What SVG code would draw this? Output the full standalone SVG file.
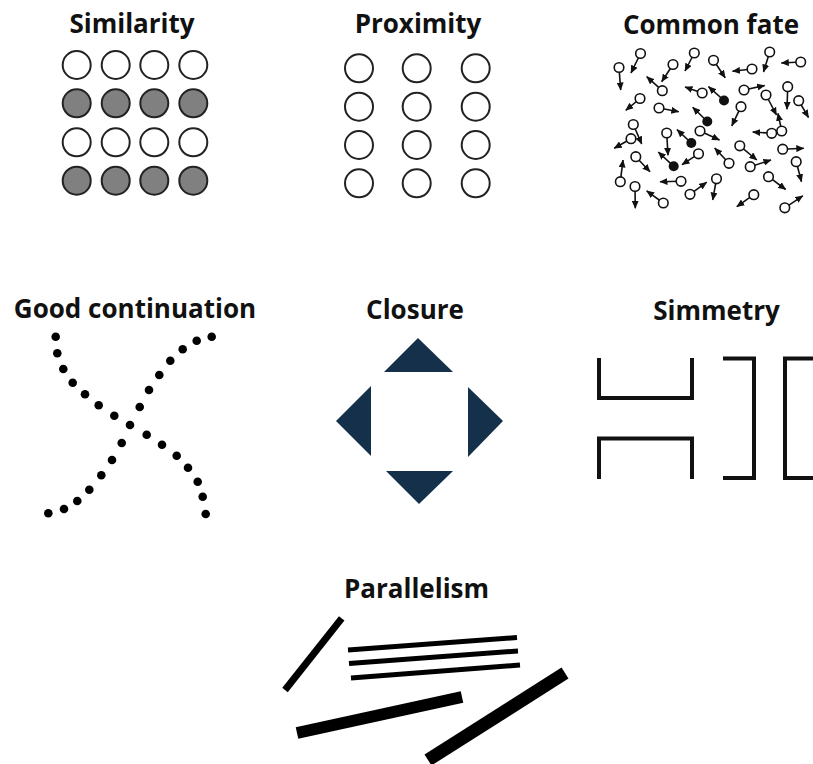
<svg xmlns="http://www.w3.org/2000/svg" width="813" height="764" viewBox="0 0 813 764">
<defs>
<marker id="ah" markerUnits="userSpaceOnUse" markerWidth="8" markerHeight="7" viewBox="0 0 8 7" refX="7.5" refY="3.5" orient="auto"><path d="M0,0 L8,3.5 L0,7 z" fill="#111"/></marker>
<style>
.t{font-family:"Open Sans","Liberation Sans",sans-serif;font-weight:bold;font-size:26px;fill:#111;text-anchor:middle}
.c{stroke:#222;stroke-width:2;fill:#fff}
.g{stroke:#222;stroke-width:2;fill:#808080}
.a{stroke:#111;stroke-width:1.6;marker-end:url(#ah)}
.o{stroke:#111;stroke-width:1.6;fill:#fff}
.b{fill:#111}
.d{fill:#000}
.cl{fill:#15304a}
.sy{fill:none;stroke:#111;stroke-width:4}
.pl{stroke:#000;stroke-linecap:butt}
</style>
</defs>
<rect width="813" height="764" fill="#fff"/>

<g id="similarity">
<text class="t" x="132" y="33">Similarity</text>
<circle class="c" cx="76.7" cy="65" r="14"/><circle class="c" cx="115.7" cy="65" r="14"/><circle class="c" cx="154.3" cy="65" r="14"/><circle class="c" cx="193.3" cy="65" r="14"/>
<circle class="g" cx="76.7" cy="103.3" r="14"/><circle class="g" cx="115.7" cy="103.3" r="14"/><circle class="g" cx="154.3" cy="103.3" r="14"/><circle class="g" cx="193.3" cy="103.3" r="14"/>
<circle class="c" cx="76.7" cy="142.3" r="14"/><circle class="c" cx="115.7" cy="142.3" r="14"/><circle class="c" cx="154.3" cy="142.3" r="14"/><circle class="c" cx="193.3" cy="142.3" r="14"/>
<circle class="g" cx="76.7" cy="180.7" r="14"/><circle class="g" cx="115.7" cy="180.7" r="14"/><circle class="g" cx="154.3" cy="180.7" r="14"/><circle class="g" cx="193.3" cy="180.7" r="14"/>
</g>

<g id="proximity">
<text class="t" x="418" y="33">Proximity</text>
<circle class="c" cx="359" cy="68.3" r="14"/><circle class="c" cx="416.7" cy="68.3" r="14"/><circle class="c" cx="475.7" cy="68.3" r="14"/>
<circle class="c" cx="359" cy="106.7" r="14"/><circle class="c" cx="416.7" cy="106.7" r="14"/><circle class="c" cx="475.7" cy="106.7" r="14"/>
<circle class="c" cx="359" cy="145" r="14"/><circle class="c" cx="416.7" cy="145" r="14"/><circle class="c" cx="475.7" cy="145" r="14"/>
<circle class="c" cx="359" cy="183.3" r="14"/><circle class="c" cx="416.7" cy="183.3" r="14"/><circle class="c" cx="475.7" cy="183.3" r="14"/>
</g>

<g id="common-fate">
<text class="t" x="711" y="34">Common fate</text>
<g id="cf-arrows">
<line class="a" x1="640.5" y1="53.5" x2="631" y2="73"/>
<line class="a" x1="619" y1="67.5" x2="620.7" y2="90"/>
<line class="a" x1="694.3" y1="53" x2="685" y2="71"/>
<line class="a" x1="673" y1="64.5" x2="661.7" y2="81.7"/>
<line class="a" x1="662.3" y1="90.7" x2="646.7" y2="76.7"/>
<line class="a" x1="713.5" y1="60.3" x2="725.2" y2="77.8"/>
<line class="a" x1="752" y1="69" x2="732.5" y2="71.3"/>
<line class="a" x1="769.7" y1="52" x2="763.5" y2="72"/>
<line class="a" x1="800.7" y1="62" x2="781.3" y2="63"/>
<line class="a" x1="702.2" y1="93" x2="685" y2="87"/>
<line class="a" x1="724" y1="100.5" x2="708.5" y2="86.7"/>
<line class="a" x1="744" y1="90" x2="764.7" y2="85.5"/>
<line class="a" x1="787.7" y1="86.7" x2="787" y2="109.3"/>
<line class="a" x1="798.7" y1="100.7" x2="808.5" y2="117.5"/>
<line class="a" x1="766" y1="95" x2="776.5" y2="115"/>
<line class="a" x1="781.7" y1="131" x2="778" y2="113.3"/>
<line class="a" x1="771.7" y1="133.3" x2="752.7" y2="132"/>
<line class="a" x1="659" y1="108" x2="678.8" y2="111.7"/>
<line class="a" x1="640" y1="98.5" x2="625.8" y2="110.3"/>
<line class="a" x1="633.3" y1="124.5" x2="641.7" y2="144"/>
<line class="a" x1="631" y1="138.7" x2="614.2" y2="148.3"/>
<line class="a" x1="666.7" y1="133" x2="668" y2="155.3"/>
<line class="a" x1="707.3" y1="121.5" x2="692.7" y2="107.3"/>
<line class="a" x1="700" y1="131" x2="719.5" y2="140"/>
<line class="a" x1="691.3" y1="143" x2="677" y2="129.7"/>
<line class="a" x1="673.7" y1="166.3" x2="658.3" y2="152"/>
<line class="a" x1="698.5" y1="153.8" x2="682" y2="164.7"/>
<line class="a" x1="635.8" y1="156.7" x2="650" y2="171.7"/>
<line class="a" x1="620.3" y1="181.7" x2="623" y2="160"/>
<line class="a" x1="635" y1="186.5" x2="635.3" y2="208.3"/>
<line class="a" x1="663.3" y1="203" x2="646.7" y2="190.8"/>
<line class="a" x1="681" y1="181.3" x2="660" y2="181.7"/>
<line class="a" x1="690" y1="194.3" x2="706.7" y2="182.2"/>
<line class="a" x1="716.5" y1="178.8" x2="712.7" y2="200"/>
<line class="a" x1="729" y1="163.3" x2="714.7" y2="148"/>
<line class="a" x1="741" y1="106.7" x2="731.8" y2="125.8"/>
<line class="a" x1="739.8" y1="145.8" x2="756.8" y2="160"/>
<line class="a" x1="750.2" y1="166.7" x2="771" y2="160"/>
<line class="a" x1="782.7" y1="149.2" x2="803.8" y2="148.3"/>
<line class="a" x1="796.2" y1="161.7" x2="801.5" y2="181.7"/>
<line class="a" x1="768.5" y1="176.7" x2="785.7" y2="189.5"/>
<line class="a" x1="753.8" y1="194.7" x2="736.8" y2="206.7"/>
<line class="a" x1="784.8" y1="207.8" x2="802.8" y2="195.8"/>
</g>
<g id="cf-dots">
<circle class="o" cx="640.5" cy="53.5" r="4.8"/>
<circle class="o" cx="619" cy="67.5" r="4.8"/>
<circle class="o" cx="694.3" cy="53" r="4.8"/>
<circle class="o" cx="673" cy="64.5" r="4.8"/>
<circle class="o" cx="662.3" cy="90.7" r="4.8"/>
<circle class="o" cx="713.5" cy="60.3" r="4.8"/>
<circle class="o" cx="752" cy="69" r="4.8"/>
<circle class="o" cx="769.7" cy="52" r="4.8"/>
<circle class="o" cx="800.7" cy="62" r="4.8"/>
<circle class="o" cx="702.2" cy="93" r="4.8"/>
<circle class="b" cx="724" cy="100.5" r="5"/>
<circle class="o" cx="744" cy="90" r="4.8"/>
<circle class="o" cx="787.7" cy="86.7" r="4.8"/>
<circle class="o" cx="798.7" cy="100.7" r="4.8"/>
<circle class="o" cx="766" cy="95" r="4.8"/>
<circle class="o" cx="781.7" cy="131" r="4.8"/>
<circle class="o" cx="771.7" cy="133.3" r="4.8"/>
<circle class="o" cx="659" cy="108" r="4.8"/>
<circle class="o" cx="640" cy="98.5" r="4.8"/>
<circle class="o" cx="633.3" cy="124.5" r="4.8"/>
<circle class="o" cx="631" cy="138.7" r="4.8"/>
<circle class="o" cx="666.7" cy="133" r="4.8"/>
<circle class="b" cx="707.3" cy="121.5" r="5"/>
<circle class="o" cx="700" cy="131" r="4.8"/>
<circle class="b" cx="691.3" cy="143" r="5"/>
<circle class="b" cx="673.7" cy="166.3" r="5"/>
<circle class="o" cx="698.5" cy="153.8" r="4.8"/>
<circle class="o" cx="635.8" cy="156.7" r="4.8"/>
<circle class="o" cx="620.3" cy="181.7" r="4.8"/>
<circle class="o" cx="635" cy="186.5" r="4.8"/>
<circle class="o" cx="663.3" cy="203" r="4.8"/>
<circle class="o" cx="681" cy="181.3" r="4.8"/>
<circle class="o" cx="690" cy="194.3" r="4.8"/>
<circle class="o" cx="716.5" cy="178.8" r="4.8"/>
<circle class="o" cx="729" cy="163.3" r="4.8"/>
<circle class="o" cx="741" cy="106.7" r="4.8"/>
<circle class="o" cx="739.8" cy="145.8" r="4.8"/>
<circle class="o" cx="750.2" cy="166.7" r="4.8"/>
<circle class="o" cx="782.7" cy="149.2" r="4.8"/>
<circle class="o" cx="796.2" cy="161.7" r="4.8"/>
<circle class="o" cx="768.5" cy="176.7" r="4.8"/>
<circle class="o" cx="753.8" cy="194.7" r="4.8"/>
<circle class="o" cx="784.8" cy="207.8" r="4.8"/>
</g>
</g>

<g id="good-continuation">
<text class="t" x="135" y="318">Good continuation</text>
<g class="d">
<circle cx="55.7" cy="336.7" r="4.3"/><circle cx="57.3" cy="353.3" r="4.3"/><circle cx="63.3" cy="369" r="4.3"/><circle cx="72.7" cy="382.7" r="4.3"/><circle cx="85" cy="394.3" r="4.3"/><circle cx="98.7" cy="405.3" r="4.3"/><circle cx="114.3" cy="415.7" r="4.3"/><circle cx="130" cy="425" r="4.3"/><circle cx="146.7" cy="434.7" r="4.3"/><circle cx="162" cy="444.7" r="4.3"/><circle cx="176.7" cy="455.7" r="4.3"/><circle cx="188" cy="467.7" r="4.3"/><circle cx="197.7" cy="481.7" r="4.3"/><circle cx="202.7" cy="496.7" r="4.3"/><circle cx="205.7" cy="514" r="4.3"/>
<circle cx="48.3" cy="513.3" r="4.3"/><circle cx="64" cy="509" r="4.3"/><circle cx="77.3" cy="501" r="4.3"/><circle cx="89.3" cy="489.7" r="4.3"/><circle cx="101.3" cy="475.3" r="4.3"/><circle cx="112" cy="460" r="4.3"/><circle cx="121.7" cy="443" r="4.3"/><circle cx="139.7" cy="407" r="4.3"/><circle cx="149" cy="390" r="4.3"/><circle cx="159.3" cy="375" r="4.3"/><circle cx="170.3" cy="360.7" r="4.3"/><circle cx="182.7" cy="349.3" r="4.3"/><circle cx="196.7" cy="340.7" r="4.3"/><circle cx="211.7" cy="336.7" r="4.3"/>
</g>
</g>

<g id="closure">
<text class="t" x="415" y="319">Closure</text>
<polygon class="cl" points="418,338 453,372 384,372"/>
<polygon class="cl" points="336,421 371,386 371,456"/>
<polygon class="cl" points="503,421 468,387 468,457"/>
<polygon class="cl" points="419,504 386,471 453,471"/>
</g>

<g id="simmetry">
<text class="t" x="716.5" y="320">Simmetry</text>
<path class="sy" d="M599,358 V398 H692 V358"/>
<path class="sy" d="M599,479 V438.5 H692 V479"/>
<path class="sy" d="M723,358.5 H754 V478 H723"/>
<path class="sy" d="M815,358.5 H785 V478 H815"/>
</g>

<g id="parallelism">
<text class="t" x="416.5" y="598">Parallelism</text>
<line class="pl" x1="285" y1="690" x2="341.7" y2="618.3" stroke-width="7"/>
<line class="pl" x1="348" y1="650" x2="517" y2="637.5" stroke-width="5"/>
<line class="pl" x1="349" y1="663.5" x2="518" y2="651" stroke-width="5"/>
<line class="pl" x1="351" y1="678" x2="520" y2="665" stroke-width="5"/>
<line class="pl" x1="297" y1="733" x2="462" y2="697" stroke-width="12"/>
<line class="pl" x1="428" y1="760" x2="565" y2="673" stroke-width="13"/>
</g>
</svg>
